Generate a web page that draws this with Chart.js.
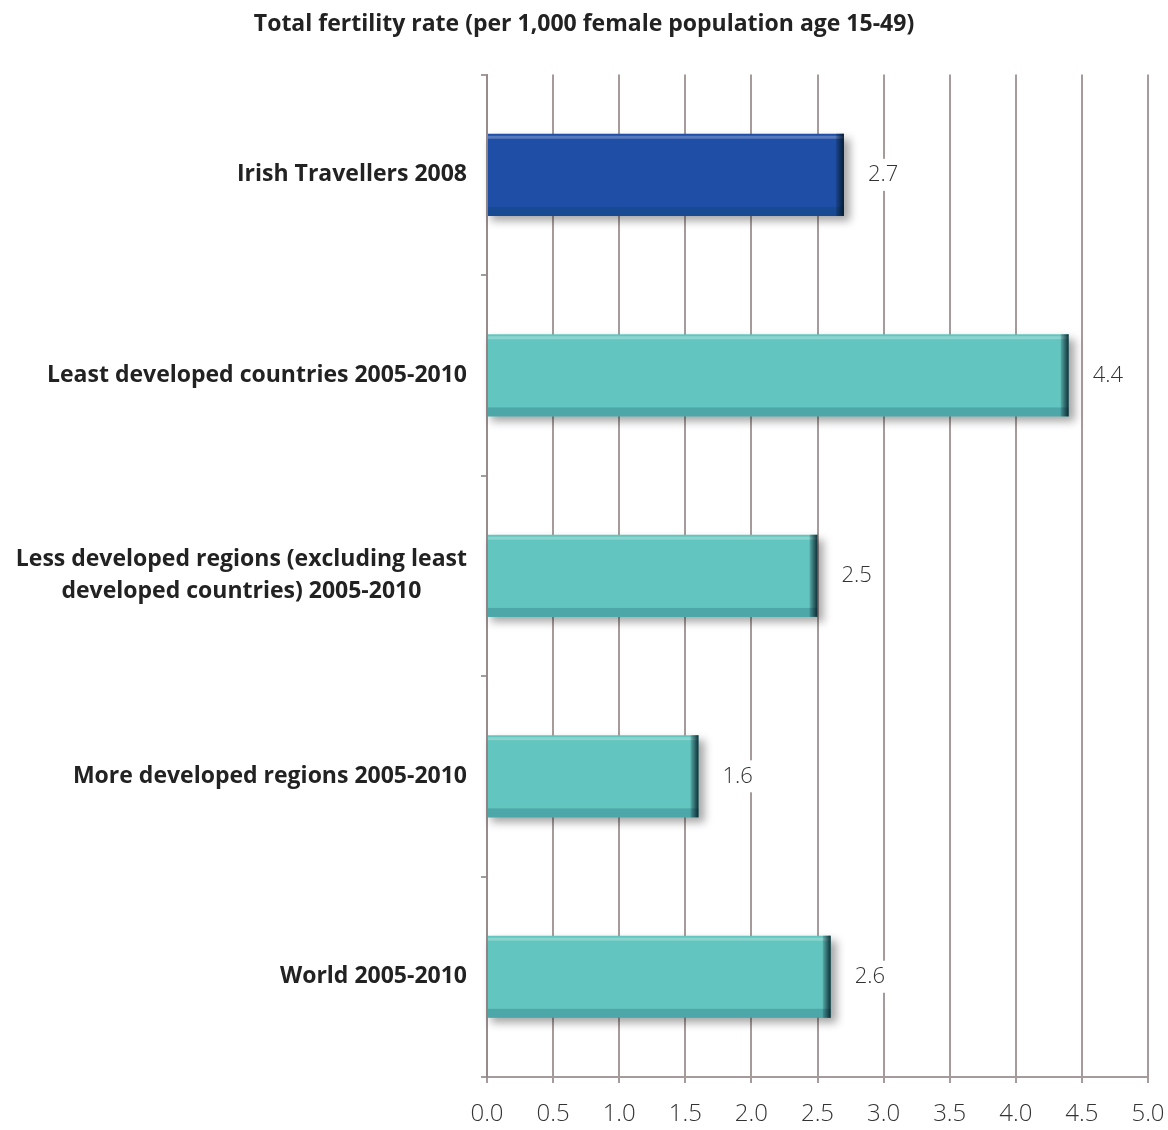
<!DOCTYPE html>
<html>
<head>
<meta charset="utf-8">
<script src="https://cdn.jsdelivr.net/npm/chart.js@4"></script>
<style>
  body { margin: 0; background: #fff; }
</style>
</head>
<body>
<canvas id="tfr" width="1168" height="1130"></canvas>
<script>
const categories = [
    'Irish Travellers 2008',
    'Least developed countries 2005-2010',
    ['Less developed regions (excluding least', 'developed countries) 2005-2010'],
    'More developed regions 2005-2010',
    'World 2005-2010'
];
const values = [2.7, 4.4, 2.5, 1.6, 2.6];
const barColors = ['#1f4ea6', '#63c5bf', '#63c5bf', '#63c5bf', '#63c5bf'];
const xTicks = [0, 0.5, 1, 1.5, 2, 2.5, 3, 3.5, 4, 4.5, 5];

const labelFont = 'bold 23px "Open Sans"';
const valueFont = '300 22px "Open Sans"';
const gridColor = 'rgba(150,138,138,0.85)';

// soft shadow behind the bars
const barShadow = {
    id: 'barShadow',
    beforeDatasetsDraw(chart) {
        const c = chart.ctx;
        c.save();
        c.filter = 'blur(4px)';
        c.fillStyle = 'rgba(0,0,0,0.35)';
        chart.getDatasetMeta(0).data.forEach(bar => {
            const h = bar.height;
            c.fillRect(bar.base + 3, bar.y - h / 2 + 5, bar.x - bar.base + 3, h);
        });
        c.restore();
    },
    afterDatasetsDraw(chart) {
        // bevel: top highlight, darker bottom band, dark right end
        const c = chart.ctx;
        c.save();
        chart.getDatasetMeta(0).data.forEach(bar => {
            const h = bar.height;
            const top = bar.y - h / 2;
            const w = bar.x - bar.base;
            c.fillStyle = 'rgba(255,255,255,0.25)';
            c.fillRect(bar.base, top + 2, w, 3);
            c.fillStyle = 'rgba(0,60,80,0.22)';
            c.fillRect(bar.base, top + h - 9, w, 9);
            const g = c.createLinearGradient(bar.x - 8, 0, bar.x, 0);
            g.addColorStop(0, 'rgba(0,20,30,0.15)');
            g.addColorStop(1, 'rgba(0,20,30,0.85)');
            c.fillStyle = g;
            c.fillRect(bar.x - 8, top, 8, h);
        });
        c.restore();
    }
};

// category labels + value labels
const textLabels = {
    id: 'textLabels',
    afterDraw(chart) {
        const c = chart.ctx;
        const y = chart.scales.y;
        const right = 467;
        c.save();
        c.fillStyle = '#222';
        c.font = labelFont;
        c.textBaseline = 'middle';
        c.textAlign = 'center';
        categories.forEach((lab, i) => {
            const py = y.getPixelForValue(i);
            const lines = Array.isArray(lab) ? lab : [lab];
            const w = Math.max(...lines.map(l => c.measureText(l).width));
            const lh = 32;
            lines.forEach((l, j) => {
                c.fillText(l, right - w / 2, py + (j - (lines.length - 1) / 2) * lh);
            });
        });

        const meta = chart.getDatasetMeta(0);
        c.font = valueFont;
        c.textAlign = 'left';
        meta.data.forEach((bar, i) => {
            const txt = values[i].toFixed(1);
            const tx = bar.x + 24;
            const tw = c.measureText(txt).width;
            c.fillStyle = '#fff';
            c.fillRect(tx - 3, bar.y - 16, tw + 10, 32);
            c.fillStyle = '#333';
            c.fillText(txt, tx, bar.y);
        });
        c.restore();
    }
};

new Chart(document.getElementById('tfr'), {
    type: 'bar',
    data: {
        labels: categories,
        datasets: [{
            data: values,
            backgroundColor: barColors,
            borderWidth: 0,
            barPercentage: 0.41,
            categoryPercentage: 1
        }]
    },
    options: {
        indexAxis: 'y',
        responsive: false,
        animation: false,
        layout: {
            padding: {left: 0, right: 0, top: 0, bottom: 1}
        },
        plugins: {
            legend: {display: false},
            tooltip: {enabled: false},
            title: {
                display: true,
                text: 'Total fertility rate (per 1,000 female population age 15-49)',
                color: '#222',
                font: {family: 'Open Sans', size: 23, weight: 'bold'},
                padding: {top: 11, bottom: 36}
            }
        },
        scales: {
            x: {
                min: 0,
                max: 5,
                afterBuildTicks: s => { s.ticks = xTicks.map(v => ({value: v})); },
                afterFit: s => { s.height = 52; s.paddingRight = 20; s.paddingLeft = 0; },
                grid: {
                    color: gridColor,
                    lineWidth: 2,
                    tickLength: 6
                },
                border: {color: gridColor, width: 2},
                ticks: {
                    color: '#333',
                    maxRotation: 0,
                    font: {family: 'Open Sans', size: 24, weight: '300'},
                    padding: 17,
                    callback: v => v.toFixed(1)
                }
            },
            y: {
                afterFit: s => { s.width = 487; },
                grid: {
                    offset: true,
                    drawOnChartArea: false,
                    color: gridColor,
                    lineWidth: 2,
                    tickLength: 6
                },
                border: {color: gridColor, width: 2},
                ticks: {display: false}
            }
        }
    },
    plugins: [barShadow, textLabels]
});
</script>
</body>
</html>
